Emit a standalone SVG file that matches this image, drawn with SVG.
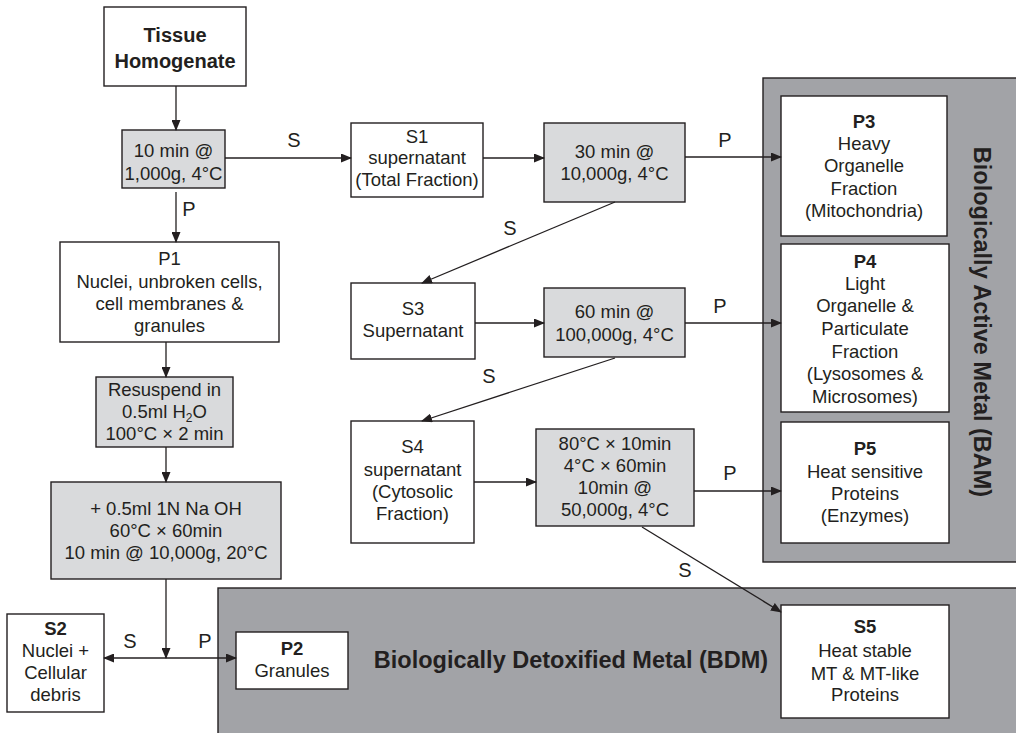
<svg xmlns="http://www.w3.org/2000/svg" width="1016" height="733" viewBox="0 0 1016 733">
<defs>
<marker id="ah" markerUnits="userSpaceOnUse" markerWidth="11" markerHeight="9" refX="10" refY="4.5" orient="auto">
<path d="M0,0 L11,4.5 L0,9 z" fill="#231f20"/>
</marker>
<style>
.box{fill:#fff;stroke:#231f20;stroke-width:1.4}
.gbox{fill:#d9dadc;stroke:#231f20;stroke-width:1.4}
.panel{fill:#a2a3a7;stroke:#231f20;stroke-width:1.4}
text{font-family:"Liberation Sans",Arial,sans-serif;font-size:18.5px;fill:#231f20;text-anchor:middle}
.b{font-weight:bold}
.big{font-weight:bold;font-size:23.5px}
.con line{stroke:#231f20;stroke-width:1.3;marker-end:url(#ah)}
#connector-labels text{font-size:20px}
</style>
</defs>
<rect width="1016" height="733" fill="#fff"/>

<g id="bam-panel">
<rect class="panel" x="763" y="78" width="260" height="484"/>
<text class="big" transform="translate(974,322) rotate(90)">Biologically Active Metal (BAM)</text>
</g>
<g id="bdm-panel">
<rect class="panel" x="218" y="588" width="805" height="150"/>
<text class="big" x="571" y="668">Biologically Detoxified Metal (BDM)</text>
</g>

<g id="tissue">
<rect class="box" x="104" y="7" width="142" height="79"/>
<text class="b" style="font-size:20px" x="175" y="42">Tissue</text>
<text class="b" style="font-size:20px" x="175" y="68">Homogenate</text>
</g>
<g id="spin1">
<rect class="gbox" x="122" y="130" width="103" height="58"/>
<text x="173.5" y="157">10 min @</text>
<text x="173.5" y="180">1,000g, 4°C</text>
</g>
<g id="p1">
<rect class="box" x="60" y="242" width="219" height="100"/>
<text x="169.5" y="265">P1</text>
<text x="169.5" y="288">Nuclei, unbroken cells,</text>
<text x="169.5" y="310">cell membranes &amp;</text>
<text x="169.5" y="332">granules</text>
</g>
<g id="resuspend">
<rect class="gbox" x="96" y="377" width="137" height="70"/>
<text x="164.5" y="396">Resuspend in</text>
<text x="164.5" y="418">0.5ml H<tspan font-size="12" dy="4">2</tspan><tspan dy="-4">O</tspan></text>
<text x="164.5" y="440">100°C × 2 min</text>
</g>
<g id="naoh">
<rect class="gbox" x="51" y="482" width="230" height="97"/>
<text x="166" y="515">+ 0.5ml 1N Na OH</text>
<text x="166" y="537">60°C × 60min</text>
<text x="166" y="559">10 min @ 10,000g, 20°C</text>
</g>
<g id="s2">
<rect class="box" x="7" y="614" width="97" height="98"/>
<text class="b" x="55.5" y="635">S2</text>
<text x="55.5" y="657">Nuclei +</text>
<text x="55.5" y="679">Cellular</text>
<text x="55.5" y="701">debris</text>
</g>
<g id="p2">
<rect class="box" x="236" y="632" width="112" height="57"/>
<text class="b" x="292" y="655">P2</text>
<text x="292" y="677">Granules</text>
</g>
<g id="s1">
<rect class="box" x="351" y="123" width="132" height="74"/>
<text x="417" y="143">S1</text>
<text x="417" y="164">supernatant</text>
<text x="417" y="186">(Total Fraction)</text>
</g>
<g id="spin2">
<rect class="gbox" x="544" y="123" width="141" height="79"/>
<text x="614.5" y="158">30 min @</text>
<text x="614.5" y="180">10,000g, 4°C</text>
</g>
<g id="s3">
<rect class="box" x="351" y="283" width="124" height="76"/>
<text x="413" y="315">S3</text>
<text x="413" y="337">Supernatant</text>
</g>
<g id="spin3">
<rect class="gbox" x="544" y="288" width="141" height="69"/>
<text x="614.5" y="318">60 min @</text>
<text x="614.5" y="341">100,000g, 4°C</text>
</g>
<g id="s4">
<rect class="box" x="351" y="421" width="123" height="122"/>
<text x="412.5" y="453">S4</text>
<text x="412.5" y="476">supernatant</text>
<text x="412.5" y="498">(Cytosolic</text>
<text x="412.5" y="520">Fraction)</text>
</g>
<g id="spin4">
<rect class="gbox" x="536" y="429" width="158" height="97"/>
<text x="615" y="450">80°C × 10min</text>
<text x="615" y="472">4°C × 60min</text>
<text x="615" y="494">10min  @</text>
<text x="615" y="516">50,000g, 4°C</text>
</g>
<g id="p3">
<rect class="box" x="781" y="96" width="166" height="140"/>
<text class="b" x="864" y="128">P3</text>
<text x="864" y="150">Heavy</text>
<text x="864" y="172">Organelle</text>
<text x="864" y="195">Fraction</text>
<text x="864" y="217">(Mitochondria)</text>
</g>
<g id="p4">
<rect class="box" x="781" y="244" width="168" height="168"/>
<text class="b" x="865" y="268">P4</text>
<text x="865" y="290">Light</text>
<text x="865" y="312">Organelle &amp;</text>
<text x="865" y="335">Particulate</text>
<text x="865" y="358">Fraction</text>
<text x="865" y="380">(Lysosomes &amp;</text>
<text x="865" y="403">Microsomes)</text>
</g>
<g id="p5">
<rect class="box" x="781" y="422" width="168" height="121"/>
<text class="b" x="865" y="455">P5</text>
<text x="865" y="478">Heat sensitive</text>
<text x="865" y="500">Proteins</text>
<text x="865" y="522">(Enzymes)</text>
</g>
<g id="s5">
<rect class="box" x="781" y="605" width="168" height="113"/>
<text class="b" x="865" y="633">S5</text>
<text x="865" y="657">Heat stable</text>
<text x="865" y="680">MT &amp; MT-like</text>
<text x="865" y="701">Proteins</text>
</g>

<g id="connectors" class="con">
<line x1="176" y1="86" x2="176" y2="130"/>
<line x1="225" y1="158" x2="351" y2="158"/>
<line x1="176" y1="192" x2="176" y2="242"/>
<line x1="166" y1="342" x2="166" y2="377"/>
<line x1="166" y1="447" x2="166" y2="482"/>
<line x1="166" y1="579" x2="166" y2="658"/>
<line x1="166" y1="658" x2="104" y2="658"/>
<line x1="166" y1="658" x2="236" y2="658"/>
<line x1="483" y1="158" x2="544" y2="158"/>
<line x1="685" y1="157" x2="781" y2="157"/>
<line x1="615" y1="202" x2="422" y2="283"/>
<line x1="475" y1="323" x2="544" y2="323"/>
<line x1="685" y1="323" x2="781" y2="323"/>
<line x1="615" y1="358" x2="422" y2="421"/>
<line x1="474" y1="482" x2="536" y2="482"/>
<line x1="694" y1="491" x2="781" y2="491"/>
<line x1="642" y1="527" x2="781" y2="612"/>
</g>
<g id="connector-labels">
<text x="294" y="147">S</text>
<text x="189" y="216">P</text>
<text x="130" y="648">S</text>
<text x="205" y="648">P</text>
<text x="725" y="147">P</text>
<text x="510" y="235">S</text>
<text x="720" y="313">P</text>
<text x="489" y="383">S</text>
<text x="730" y="480">P</text>
<text x="685" y="577">S</text>
</g>
</svg>
